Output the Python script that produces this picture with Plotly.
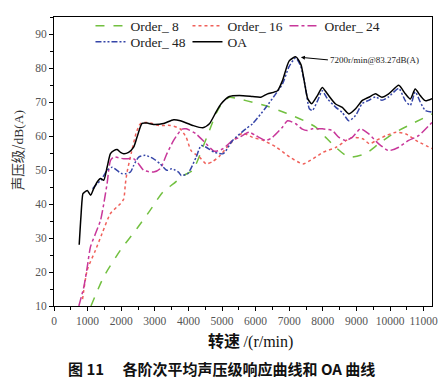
import plotly.graph_objects as go

# ---- data ----
oa_rpm = [750, 800, 860, 900, 990, 1090, 1180, 1280, 1385, 1480, 1580, 1680, 1780, 1880, 1980, 2075, 2220, 2370, 2470, 2620, 2770, 2965, 3260, 3560, 3760, 4130, 4430, 4625, 4820, 4970, 5220, 5515, 5910, 6155, 6355, 6650, 6800, 7000, 7200, 7350, 7450, 7550, 7670, 7840, 7985, 8135, 8380, 8580, 8775, 8975, 9170, 9370, 9570, 9760, 9960, 10260, 10455, 10605, 10750, 10900, 11050, 11250]
oa_db = [28, 36, 43, 43.4, 44, 42.6, 44.5, 46.4, 47.5, 47, 50.8, 54.8, 55.7, 56, 55.2, 54.8, 55.2, 56.7, 59.6, 63.7, 63.8, 63.4, 63.7, 64.8, 64.5, 63.1, 62.4, 63.6, 67, 69.4, 71.6, 71.9, 71.6, 71.4, 72.4, 73.3, 76.3, 82.1, 83.27, 81, 76, 71, 69.5, 71.9, 74.3, 72.4, 69.4, 68.4, 66.5, 68, 70.4, 71.4, 72.4, 71.4, 72.4, 74.9, 72.4, 70.9, 73.8, 71.9, 70.4, 71]

o48_rpm = [1150, 1285, 1400, 1580, 1730, 1875, 2000, 2125, 2275, 2370, 2520, 2720, 2965, 3160, 3360, 3505, 3600, 3705, 3785, 3980, 4230, 4380, 4530, 4775, 5040, 5315, 5710, 5910, 6305, 6600, 6800, 7000, 7195, 7345, 7490, 7600, 7690, 7850, 7985, 8135, 8380, 8580, 8775, 8975, 9170, 9370, 9570, 9760, 9960, 10260, 10455, 10605, 10750, 10900, 11050, 11250]
o48_db = [44.5, 46, 47, 49.9, 50.8, 49.9, 49, 48.9, 49.4, 51.3, 53.8, 54.3, 53.3, 51.8, 49.9, 50.4, 50, 49.4, 48.4, 48.9, 53.8, 57.2, 56.7, 55.2, 54.8, 58.7, 62.1, 63.6, 68.4, 72.4, 75.3, 80.5, 83, 80.5, 74, 68, 67.5, 70.5, 73.3, 71, 68.5, 66.9, 64.5, 66, 69.5, 70.5, 71.5, 70.5, 71.5, 74, 70.4, 69, 73, 70, 67.5, 67]

o8_rpm = [1100, 1480, 1975, 2470, 2865, 3060, 3240, 3560, 3855, 4130, 4430, 4625, 4820, 5020, 5220, 5515, 5910, 6305, 6700, 7095, 7440, 7790, 8085, 8380, 8775, 9270, 9665, 10160, 10655, 11250]
o8_db = [10, 18.6, 26.4, 32.8, 38.2, 41.1, 43.5, 46, 48.4, 49.9, 56.7, 61.6, 66.5, 69.9, 71.4, 70.9, 69.9, 68.9, 67.5, 66, 64.5, 62.6, 59.6, 56.7, 53.8, 54.8, 57.7, 61.1, 63.6, 66.5]

o16_rpm = [850, 990, 1235, 1430, 1680, 1975, 2075, 2125, 2175, 2300, 2450, 2570, 2770, 3140, 3460, 3755, 3935, 4080, 4330, 4530, 4725, 4920, 5220, 5610, 5910, 6225, 6620, 7015, 7410, 7710, 8005, 8400, 8700, 8895, 9190, 9390, 9590, 9880, 10180, 10475, 10770, 11250]
o16_db = [12, 20.6, 26.4, 31.3, 37.2, 40.1, 41.5, 46, 49.4, 55, 61, 63.6, 64, 63.1, 63.1, 62.1, 59.6, 55.7, 53.8, 51.8, 52.5, 54, 57.5, 60.8, 59.6, 58.7, 56.7, 53.8, 51.8, 53.3, 55.2, 56.7, 58.7, 59.6, 59.2, 57.7, 58.7, 60.1, 61.1, 60.6, 58.7, 56.3]

o24_rpm = [740, 890, 990, 1085, 1235, 1385, 1480, 1580, 1680, 1780, 2075, 2370, 2520, 2670, 2965, 3160, 3360, 3560, 3805, 3935, 4230, 4530, 4775, 5020, 5315, 5515, 5810, 6010, 6305, 6500, 6800, 6950, 7195, 7390, 7540, 7690, 7985, 8280, 8480, 8680, 8875, 9120, 9370, 9665, 9960, 10260, 10555, 10850, 11250]
o24_db = [10, 15.7, 21.5, 27.4, 31.3, 35.2, 40, 46, 52.8, 53.8, 53.3, 53.3, 51.8, 49.9, 49.4, 50.4, 54.8, 58.7, 62, 62.1, 60.6, 57.7, 55.5, 56.2, 58.7, 59.6, 61.1, 60.1, 58.7, 59.6, 62.6, 64.5, 63.6, 62, 61.6, 62.1, 62.1, 61.6, 59.6, 58.7, 59.6, 62.1, 60.6, 57.7, 55.7, 56.7, 58.7, 60.1, 64]

x_ticks = [0, 1000, 2000, 3000, 4000, 5000, 6000, 7000, 8000, 9000, 10000, 11000]
y_ticks = [10, 20, 30, 40, 50, 60, 70, 80, 90]

peak_rpm = 7200
peak_db = 83.27

SERIF = "Liberation Serif, Times New Roman, serif"
CJK = "Noto Sans CJK SC"

fig = go.Figure()
series = [
    ("Order_ 8", o8_rpm, o8_db, "#72c040", "dash", "legend"),
    ("Order_ 16", o16_rpm, o16_db, "#f0605a", "dot", "legend"),
    ("Order_ 24", o24_rpm, o24_db, "#c8379a", "dashdot", "legend"),
    ("Order_ 48", o48_rpm, o48_db, "#3545a8", "6px,2px,2px,2px,2px,2px", "legend2"),
    ("OA", oa_rpm, oa_db, "#000000", "solid", "legend2"),
]
for name, xs, ys, col, dash, lg in series:
    fig.add_trace(go.Scatter(
        x=xs, y=ys, mode="lines", name=name, legend=lg,
        line=dict(color=col, width=1.5, dash=dash, shape="spline", smoothing=0.6),
    ))

fig.add_annotation(
    x=peak_rpm, y=peak_db, xref="x", yref="y",
    text=f"{peak_rpm}r/min@{peak_db}dB(A)",
    showarrow=True, arrowhead=2, arrowsize=0.8, arrowwidth=1, arrowcolor="#000",
    standoff=5, ax=32, ay=3, xanchor="left", yanchor="middle",
    font=dict(family=SERIF, size=9, color="#222"),
)

axis_common = dict(
    showgrid=False, zeroline=False, showline=True, linecolor="#000", linewidth=1,
    mirror=True, ticks="outside", ticklen=4, tickwidth=1, tickcolor="#000",
    tickfont=dict(family=SERIF, size=11.5, color="#555"),
)
fig.update_xaxes(
    range=[0, 11250], tickvals=x_ticks, ticktext=[str(v) for v in x_ticks],
    minor=dict(dtick=500, ticks="outside", ticklen=3, tickcolor="#000"),
    **axis_common,
)
fig.update_yaxes(
    range=[10, 95], tickvals=y_ticks, ticktext=[str(v) for v in y_ticks],
    minor=dict(dtick=5, ticks="outside", ticklen=3, tickcolor="#000"),
    **axis_common,
)

# axis titles
fig.add_annotation(
    x=0.519, y=-0.117, xref="paper", yref="paper", showarrow=False,
    text="<b>转速</b> <span style='font-family:Liberation Serif'>/(r/min)</span>",
    font=dict(family=CJK, size=16, color="#111"), xanchor="center", yanchor="middle",
)
fig.add_annotation(
    x=-0.097, y=0.54, xref="paper", yref="paper", showarrow=False, textangle=-90,
    text="声压级/<span style='font-family:Liberation Serif'>dB(A)</span>",
    font=dict(family=CJK, size=13.5, color="#333"), xanchor="center", yanchor="middle",
)

# caption
fig.add_annotation(
    x=0.443, y=-0.215, xref="paper", yref="paper", showarrow=False,
    text="<b>图 11　 各阶次平均声压级响应曲线和 OA 曲线</b>",
    font=dict(family=CJK, size=15, color="#111"), xanchor="center", yanchor="middle",
)

legend_common = dict(
    orientation="h", x=0.0965, xanchor="left", yanchor="top",
    bgcolor="rgba(0,0,0,0)", borderwidth=0,
    entrywidth=52, entrywidthmode="pixels",
    font=dict(family=SERIF, size=13.5, color="#222"),
    tracegroupgap=0, itemwidth=30,
)

# the page body adds an 8px margin, so the figure is 8px smaller on each side
fig.update_layout(
    width=440, height=377,
    margin=dict(l=46, r=16, t=9, b=79, autoexpand=False),
    paper_bgcolor="white", plot_bgcolor="white",
    showlegend=True,
    legend=dict(y=1.0225, **legend_common),
    legend2=dict(y=0.967, **legend_common),
)

fig.write_html("out.html")
